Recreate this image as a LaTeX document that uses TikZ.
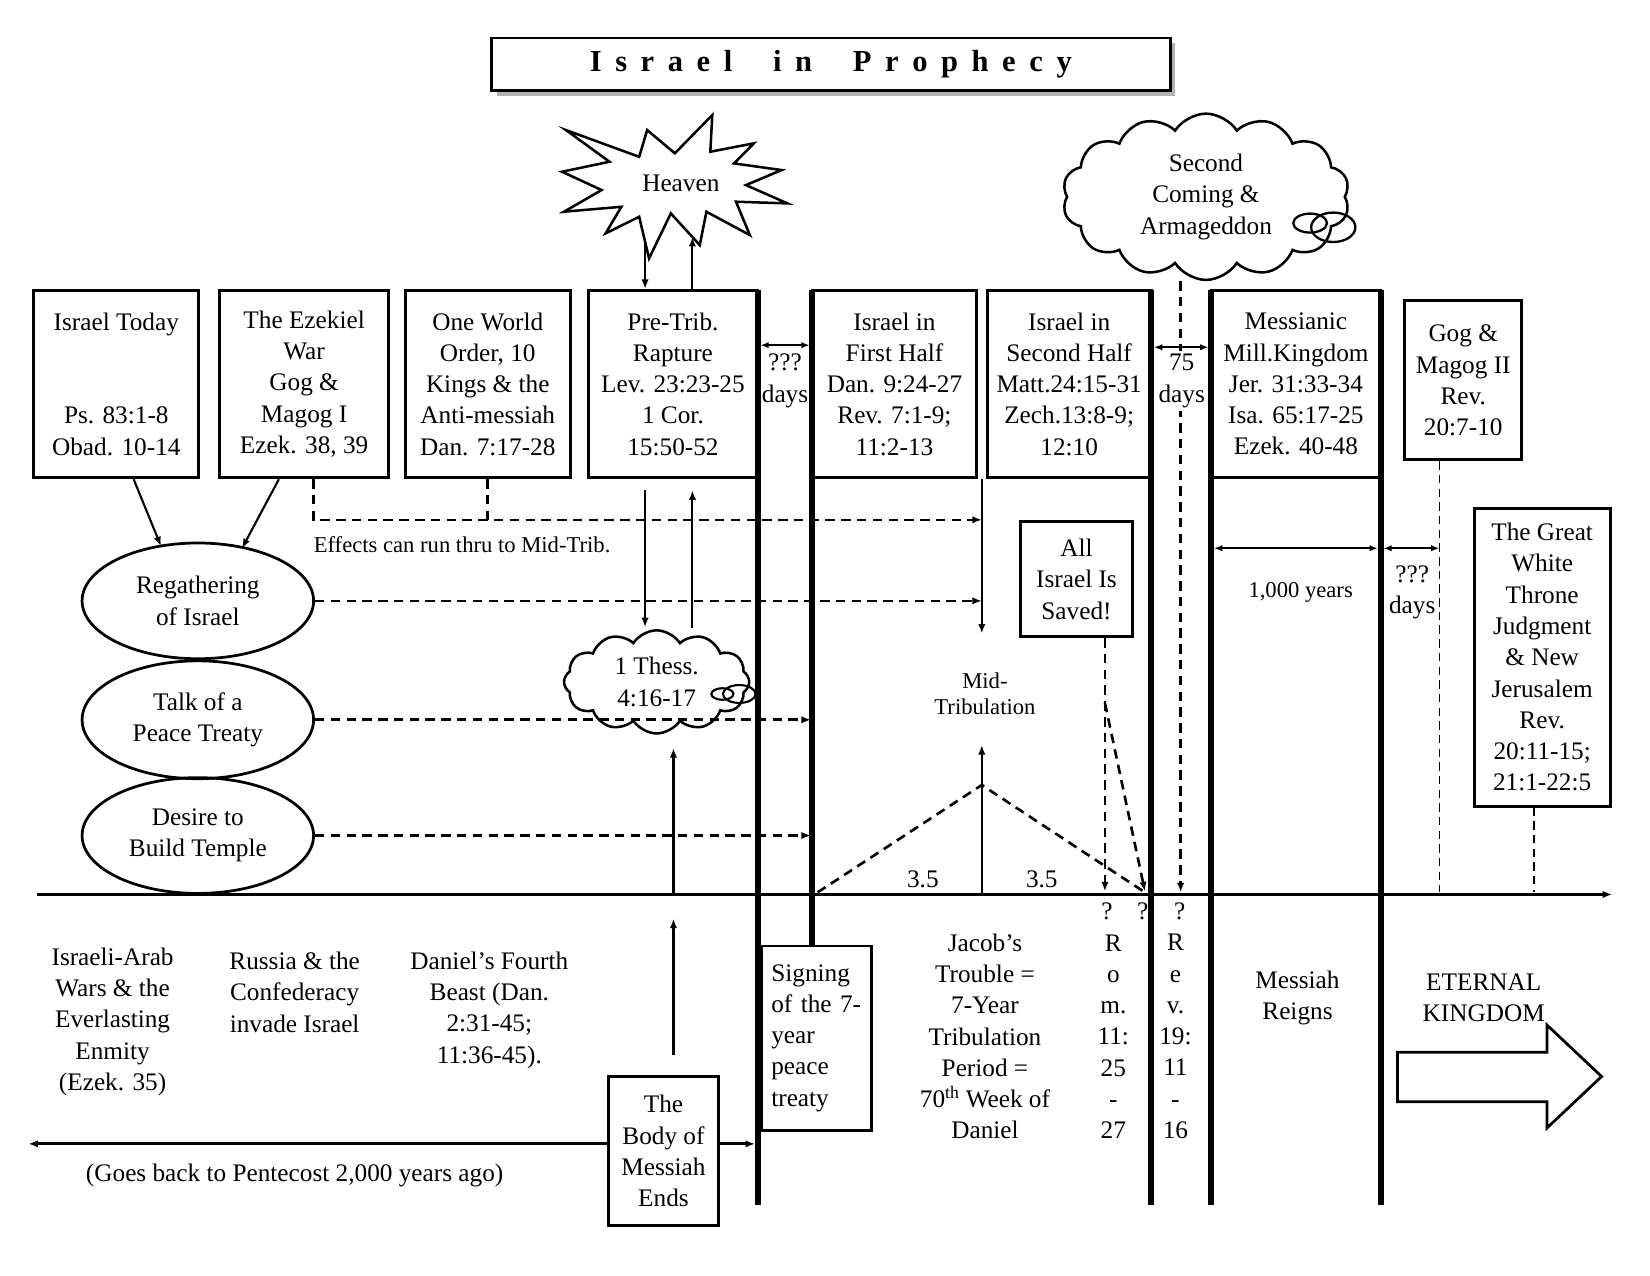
\documentclass[tikz,border=0pt]{standalone}
\usepackage{fontspec}
\setmainfont{Liberation Serif}
\usetikzlibrary{arrows.meta,shapes.geometric,shapes.symbols,calc}
\begin{document}
\begin{tikzpicture}[x=1pt,y=-1pt,
  txt/.style={font=\fontsize{24}{29.7}\selectfont, align=center, inner sep=0pt},
  smalltxt/.style={font=\fontsize{21.5}{24.5}\selectfont, align=center, inner sep=0pt},
  box/.style={draw, line width=2.8pt, txt},
  oval/.style={ellipse, draw, line width=2.6pt, txt, minimum width=220pt, minimum height=110pt},
  bar/.style={line width=5.5pt},
  dl/.style={line width=2.5pt, dash pattern=on 9pt off 6pt},
  tdl/.style={line width=1.5pt, dash pattern=on 8pt off 5pt},
  ln/.style={line width=2pt},
  tip/.style={-{Latex[length=9pt,width=7pt]}},
  dtip/.style={{Latex[length=8pt,width=6pt]}-{Latex[length=8pt,width=6pt]}},
  puff/.style={cloud, draw, line width=2.4pt, cloud ignores aspect, txt},
]
\fill[white] (0,0) rectangle (1568,1212);
\useasboundingbox (0,0) rectangle (1568,1212);

% title
\fill[black!30] (472,41) rectangle (1117,91);
\node[draw, fill=white, line width=2.6pt, minimum width=645pt, minimum height=50pt, inner sep=0pt,
  font=\fontsize{29}{32}\selectfont\bfseries] (title) at (789.5,61)
  {\makebox[458pt][s]{I\hfill s\hfill r\hfill a\hfill e\hfill l\hfill\hfill\hfill i\hfill n\hfill\hfill\hfill P\hfill r\hfill o\hfill p\hfill h\hfill e\hfill c\hfill y}};

% top boxes
\node[box, minimum width=157pt, minimum height=178pt] (today) at (110.5,365) {Israel Today\\ \mbox{}\\ \mbox{}\\ Ps. 83:1-8\\ Obad. 10-14};
\node[box, minimum width=160pt, minimum height=178pt] (ezek) at (289,365) {The Ezekiel\\War\\Gog \&\\Magog I\\Ezek. 38, 39};
\node[box, minimum width=157pt, minimum height=178pt] (owo) at (463.5,365) {One World\\Order, 10\\Kings \& the\\Anti-messiah\\Dan. 7:17-28};
\node[box, minimum width=161pt, minimum height=178pt] (rapt) at (639.5,365) {Pre-Trib.\\Rapture\\Lev. 23:23-25\\1 Cor.\\15:50-52};
\node[box, minimum width=156pt, minimum height=178pt] (first) at (850,365) {Israel in\\First Half\\Dan. 9:24-27\\Rev. 7:1-9;\\11:2-13};
\node[box, minimum width=156pt, minimum height=178pt] (second) at (1016,365) {Israel in\\Second Half\\Matt.24:15-31\\Zech.13:8-9;\\12:10};
\node[box, minimum width=161pt, minimum height=178pt] (mill) at (1231.5,365) {Messianic\\Mill.Kingdom\\Jer. 31:33-34\\Isa. 65:17-25\\Ezek. 40-48};
\node[box, minimum width=111pt, minimum height=151pt] (gog) at (1390.5,361.5) {Gog \&\\Magog II\\Rev.\\20:7-10};
\node[box, minimum width=129pt, minimum height=283pt] (gwt) at (1465.5,624.5) {The Great\\White\\Throne\\Judgment\\\& New\\Jerusalem\\Rev.\\20:11-15;\\21:1-22:5};
\node[box, minimum width=106pt, minimum height=109pt] (saved) at (1023,550.5) {All\\Israel Is\\Saved!};
\node[box, minimum width=105pt, minimum height=142pt] (body) at (630.5,1094) {The\\Body of\\Messiah\\Ends};
\node[box, align=left, text width=86pt, inner xsep=9pt, minimum height=175pt, minimum width=104pt] (sign) at (776,986.5) {Signing\\of the 7-\\year\\peace\\treaty};

% ovals
\node[oval] (regath) at (188,571) {Regathering\\of Israel};
\node[oval, minimum height=112pt] (talk) at (188,684) {Talk of a\\Peace Treaty};
\node[oval] (desire) at (188,794) {Desire to\\Build Temple};

% heaven star
\draw[line width=2.4pt, line join=miter] (537.8,123.6) -- (607.4,149) -- (615,123.6) -- (641.3,145.7) -- (676.9,109.3) -- (675,144.2) -- (716.4,136.2) -- (697.6,155.3) -- (742.7,161.6) -- (708.9,175.9) -- (748.3,193.3) -- (699.4,191.7) -- (712.6,223.4) -- (671.3,201.2) -- (665,232.9) -- (637.5,202.8) -- (616.8,245.6) -- (607.4,206) -- (575.5,221.8) -- (590.5,196.5) -- (536,201.2) -- (571.7,180.6) -- (534.1,163.2) -- (579.2,153.7) -- cycle;
\node[txt] (heaven) at (647,174) {Heaven};
\coordinate (hvA) at (613,229.6);
\coordinate (hvB) at (658,225.2);
\draw[ln,tip] (hvA) -- (hvA |- rapt.north);
\draw[ln,tip] (hvB |- rapt.north) -- (hvB);

% clouds
\node[puff, cloud puffs=14, cloud puff arc=115, minimum width=273pt, minimum height=158pt] (coming) at (1146,187) {Second\\Coming \&\\Armageddon};
\draw[line width=2.2pt] (1245,212) ellipse [x radius=16, y radius=9];
\draw[line width=2.2pt] (1267,216) ellipse [x radius=21, y radius=14];
\node[puff, cloud puffs=12, cloud puff arc=115, minimum width=176pt, minimum height=98pt] (thess) at (624,648) {1 Thess.\\4:16-17};
\draw[line width=2pt] (686.5,659.5) ellipse [x radius=10.5, y radius=5.5];
\draw[line width=2pt] (702.5,659.5) ellipse [x radius=15.5, y radius=8.5];

% axis
\coordinate (axL) at (35,850);
\coordinate (axR) at (1532,850);
\draw[line width=2.5pt, tip] (axL) -- (axR);

% thick bars
\draw[bar] (720,276) -- (720,1145);
\draw[bar] (772,276) -- (sign.north -| 772,0);
\draw[bar] (1094,276) -- (1094,1145);
\draw[bar] (1151,276) -- (1151,1145);
\draw[bar] (1312,276) -- (1312,1145);

% arrows from boxes to regathering
\draw[ln,tip] ([xshift=16.5pt]today.south) -- (153,519);
\draw[ln,tip] ([xshift=-24pt]ezek.south) -- (230,521);

% mid-trib vertical
\coordinate (mtTop) at (933,455);
\coordinate (mtBot) at (933,602);
\draw[ln,tip] (mtTop) -- (mtBot);

% dashed effects
\coordinate (ezD) at (298,494);
\draw[dl,tip] ([xshift=9pt]ezek.south) -- (ezD) -- (ezD -| mtTop);
\draw[dl] (owo.south) -- (owo.south |- ezD);
\node[smalltxt, anchor=west] (effects) at (298,518) {Effects can run thru to Mid-Trib.};
\draw[dl,tip] (regath.east) -- (regath.east -| mtTop);
\draw[dl,tip] (talk.east) -- (talk.east -| first.west);
\draw[dl,tip] (desire.east) -- (desire.east -| first.west);

% rapture arrows
\draw[ln,tip] (613,466) -- (613,596);
\draw[ln,tip] (658,597) -- (658,466);
\draw[ln,tip] (axL -| 640,0) -- (640,711);
\draw[ln,tip] (640,1003) -- (640,873);

% double arrows
\draw[ln,dtip] (722.5,328) -- (769.5,328);
\node[txt] (d1) at (746,362) {???\\days};
\draw[dl,tip] (coming.south -| 1122,0) -- (1122,848);
\draw[ln,dtip] (1096.5,330) -- (1148.5,330);
\node[txt, fill=white, inner sep=3pt] (d75) at (1123,362) {75\\days};
\draw[ln,dtip] (1153.5,521) -- (1309.5,521);
\node[smalltxt] (yrs) at (1236,563) {1,000 years};
\draw[ln,dtip] (1314.5,521) -- (1368,521);
\node[txt] (d2) at (1342,563) {???\\days};
\draw[tdl] (gog.south -| 1368,0) -- (1368,848);
\draw[tdl] (gwt.south -| 1458,0) -- (1458,848);

% all israel saved
\draw[dl,tip] ([xshift=27pt]saved.south) -- (1050,847);
\draw[dl,tip] (1050,668) -- (1088,847);

% mid tribulation
\node[smalltxt] (midtrib) at (936,659) {Mid-\\Tribulation};
\draw[ln,tip] (933,849) -- (933,708);
\draw[dl] (777,848) -- (933,746) -- (1088,848);
\node[txt] (h1) at (877,836) {3.5};
\node[txt] (h2) at (990,836) {3.5};

% below axis
\node[txt] (q1) at (1052,866) {?};
\node[txt] (q2) at (1086,866) {?};
\node[txt] (q3) at (1121,866) {?};
\node[txt] (rom) at (1058,985) {R\\o\\m.\\11:\\25\\-\\27};
\node[txt] (rev) at (1117,985) {R\\e\\v.\\19:\\11\\-\\16};
\node[txt] (arab) at (107,971) {Israeli-Arab\\Wars \& the\\Everlasting\\Enmity\\(Ezek. 35)};
\node[txt] (russia) at (280,943) {Russia \& the\\Confederacy\\invade Israel};
\node[txt] (beast) at (465,960) {Daniel’s Fourth\\Beast (Dan.\\2:31-45;\\11:36-45).};
\node[txt] (jacob) at (936,985) {Jacob’s\\Trouble =\\7-Year\\Tribulation\\Period =\\70\textsuperscript{th} Week of\\Daniel};
\node[txt] (reigns) at (1233,948.5) {Messiah\\Reigns};
\node[txt] (eternal) at (1410,948.5) {ETERNAL\\KINGDOM};
\draw[line width=2.6pt, line join=miter] (1328,1000) -- (1470,1000) -- (1470,974) -- (1522,1023) -- (1470,1072) -- (1470,1047) -- (1328,1047) -- cycle;

% body of messiah arrows
\coordinate (pent) at (27,1087);
\draw[line width=3pt, tip] (body.west |- pent) -- (pent);
\draw[line width=3pt, tip] (body.east |- pent) -- (717.5,1087);
\node[txt] (goes) at (280,1117) {(Goes back to Pentecost 2,000 years ago)};
\end{tikzpicture}
\end{document}
